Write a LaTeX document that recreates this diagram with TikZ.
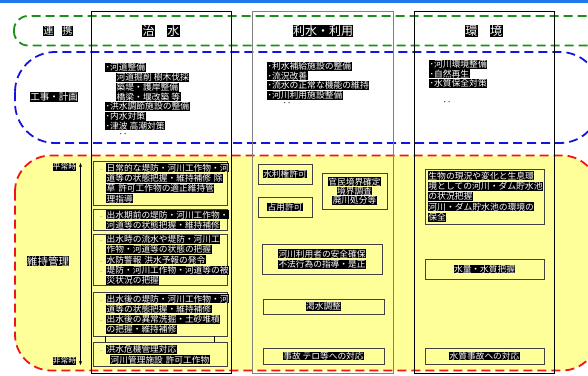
\documentclass[tikz,border=0pt]{standalone}
\usepackage{fontspec}
\setmainfont{Noto Sans CJK JP}
\usetikzlibrary{arrows.meta}

\definecolor{kyellow}{HTML}{FFFF99}
\definecolor{kgreen}{HTML}{1A8F1A}
\definecolor{kblue}{HTML}{1414E0}
\definecolor{kred}{HTML}{F01414}
\definecolor{kbar}{HTML}{2277EE}

\newcommand{\hil}[1]{{\fboxsep=0.4pt\colorbox{black}{\color{white}#1}}}
\newcommand{\bul}{\makebox[6pt][l]{\textcolor{black!55}{\fontsize{6}{6}\selectfont -}}}
\newcommand{\indt}{\hspace*{6pt}}

\tikzset{
  hdr/.style={font=\fontsize{12}{14}\selectfont, inner sep=0pt},
  lbl/.style={font=\fontsize{9.5}{11}\selectfont, inner sep=0pt},
  slbl/.style={font=\fontsize{7.7}{9}\selectfont, inner sep=0pt},
  lst/.style={font=\fontsize{8.8}{9.7}\selectfont, align=left, inner sep=0pt, anchor=north west},
  jbox/.style={draw=black!75, line width=0.9pt, fill=kyellow, inner ysep=0pt, font=\fontsize{8.7}{10.3}\selectfont},
  colbox/.style={draw=black, line width=0.7pt},
  zone/.style={line width=1.8pt, dash pattern=on 9pt off 5pt, rounded corners=#1},
}

\begin{document}
\begin{tikzpicture}[x=1pt,y=-1pt]
\useasboundingbox (0,0) rectangle (588,375);
\clip (0,0) rectangle (588,375);
\fill[kbar] (0,0) rectangle (588,2.5);

% zones
\draw[zone=36pt,kred,fill=kyellow] (15,155.5) rectangle (598,370.5);
\draw[zone=14pt,kgreen] (14,16) rectangle (602,45.5);
\draw[zone=40pt,kblue] (15,52) rectangle (600,143);

% columns
\draw[colbox] (91.7,11.7) rectangle (231.7,373);
\draw[colbox,gray] (252.3,11.7) rectangle (393,373);
\draw[colbox] (414,11.7) rectangle (554,373);

\node[lbl,font=\fontsize{10}{12}\selectfont] (renkei) at (58,31) {\hil{連}\hspace{8pt}\hil{携}};
\node[hdr] (chisui) at (161,31) {\hil{治}\hspace{12pt}\hil{水}};
\node[hdr] (risui) at (323,31) {\hil{利水・利用}};
\node[hdr] (kankyo) at (483.7,31) {\hil{環}\hspace{12pt}\hil{境}};

\node[lbl] (koji) at (54,97) {\hil{工事・計画}};
\node[lbl,font=\fontsize{10.5}{12}\selectfont] (iji) at (48,261) {\hil{維持管理}};
\node[slbl] (heijo) at (64.5,166.7) {\hil{平常時}};
\node[slbl] (hijo) at (64.5,361) {\hil{非常時}};
\coordinate (tN) at (80.5,163);
\coordinate (tS) at (80.5,365);
\draw[{Stealth[length=4pt,width=3pt]}-{Stealth[length=4pt,width=3pt]},line width=0.6pt] (tN) -- (tS);

% works and plans
\node[lst] (clist) at (105,63) {\hil{･河道整備}\\
\hspace*{11pt}\hil{河道掘削 樹木伐採}\\
\hspace*{11pt}\hil{築堤・護岸整備}\\
\hspace*{11pt}\hil{橋梁・堰改築 等}\\
\hil{･洪水調節施設の整備}\\
\hil{･内水対策}\\
\hil{･津波 高潮対策}};
\node[lst,anchor=center] (cdots) at (123,135.5) {‥};

\node[lst] (rlist) at (267,61.5) {\hil{･利水補給施設の整備}\\
\hil{･流況改善}\\
\hil{･流水の正常な機能の維持}\\
\hil{･河川利用施設整備}};
\node[lst,anchor=center] (rdots) at (287,105) {‥};

\node[lst] (klist) at (429,59.5) {\hil{･河川環境整備}\\
\hil{･自然再生}\\
\hil{･水質保全対策}};
\node[lst,anchor=center] (kdots) at (447,104) {‥};

% maintenance: flood control
\node[jbox,text width=120.4pt,inner xsep=7pt,minimum height=43.3pt,align=left] (jbox1) at (160.5,183.35)
  {\bul\hil{日常的な堤防・河川工作物・河}\\
   \indt\hil{道等の状態把握・維持補修 除}\\
   \indt\hil{草 許可工作物の適正維持管}\\
   \indt\hil{理指導}};
\node[jbox,text width=120.4pt,inner xsep=7pt,minimum height=21.7pt,align=left] (jbox2) at (160.5,219.85)
  {\bul\hil{出水期前の堤防・河川工作物・}\\
   \indt\hil{河道等の状態把握・維持補修}};
\node[jbox,text width=120.4pt,inner xsep=7pt,minimum height=51.7pt,align=left] (jbox3) at (160.5,259.85)
  {\bul\hil{出水時の流水や堤防・河川工}\\
   \indt\hil{作物・河道等の状態の把握}\\
   \bul\hil{水防警報 洪水予報の発令}\\
   \bul\hil{堤防・河川工作物・河道等の被}\\
   \indt\hil{災状況の把握}};
\node[jbox,text width=120.4pt,inner xsep=7pt,minimum height=43.7pt,align=left] (jbox4) at (160.5,314.15)
  {\bul\hil{出水後の堤防・河川工作物・河}\\
   \indt\hil{道等の状態把握・維持補修}\\
   \bul\hil{出水後の異常洗掘・土砂堆積}\\
   \indt\hil{の把握・維持補修}};
\node[jbox,text width=120.4pt,inner xsep=7pt,minimum height=24pt,align=left] (jbox5) at (160.5,354.7)
  {\bul\hil{洪水危機管理対応}\\
   \hspace*{10pt}\hil{河川管理施設 許可工作物}};
\coordinate (lnkL) at (105.7,0);
\coordinate (lnkR) at (214.3,0);
\draw[line width=1.4pt] (jbox4.south -| lnkL) -- (jbox5.north -| lnkL);
\draw[line width=1.4pt] (jbox4.south -| lnkR) -- (jbox5.north -| lnkR);

% maintenance: water use
\node[jbox,minimum width=54pt,minimum height=20pt,align=center] (kyoka) at (285,174) {\hil{水利権許可}};
\node[jbox,minimum width=54pt,minimum height=20pt,align=center] (senyo) at (285,207) {\hil{占用許可}};
\node[jbox,minimum width=65pt,minimum height=36pt,align=center,font=\fontsize{8.7}{9.2}\selectfont] (kyokai) at (354.5,191)
  {\hil{官民境界確定}\\ \hil{境界調査}\\ \hil{廃川処分等}};
\node[jbox,minimum width=120pt,minimum height=30pt,align=center] (anzen) at (322,259)
  {\hil{河川利用者の安全確保}\\ \hil{不法行為の指導・是正}};
\node[jbox,minimum width=121pt,minimum height=15pt,align=center] (kassui) at (323.5,306.5) {\hil{渇水調整}};
\node[jbox,minimum width=121pt,minimum height=16pt,align=center] (jiko) at (323.5,356) {\hil{事故 テロ等への対応}};

% maintenance: environment
\node[jbox,text width=113pt,inner xsep=3pt,minimum height=55pt,align=left,font=\fontsize{8.8}{10.4}\selectfont] (seibutsu) at (484.5,196.5)
  {\hil{生物の現況や変化と生息環}\\
   \hil{境としての河川・ダム貯水池}\\
   \hil{の状況把握}\\
   \hil{河川・ダム貯水池の環境の}\\
   \hil{保全}};
\node[jbox,minimum width=119pt,minimum height=20pt,align=center] (suishitsu) at (484.5,269) {\hil{水量・水質把握}};
\node[jbox,minimum width=119pt,minimum height=16pt,align=center] (sjiko) at (484.5,356) {\hil{水質事故への対応}};
\end{tikzpicture}
\end{document}
